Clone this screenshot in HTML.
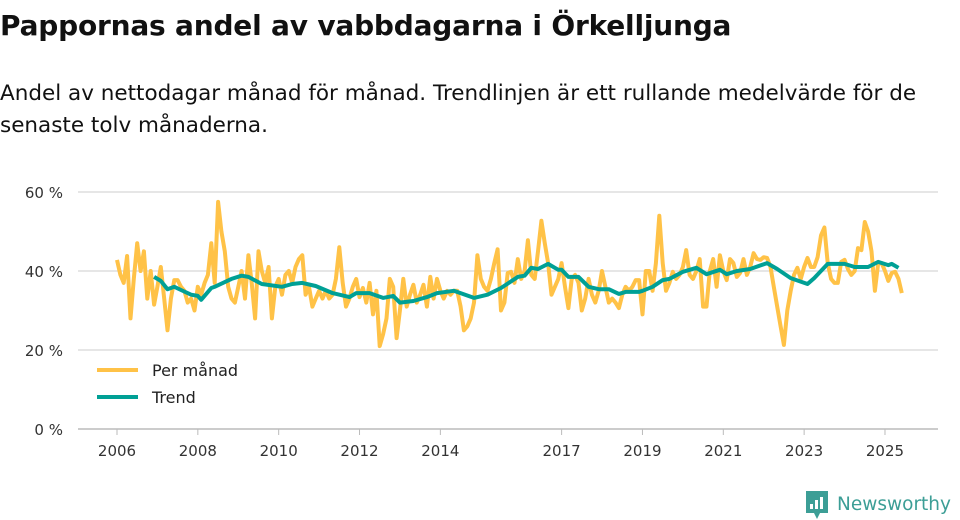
<!DOCTYPE html>
<html><head><meta charset="utf-8">
<style>
body{margin:0;background:#fff;font-family:"DejaVu Sans","Liberation Sans",sans-serif;color:#111;}
#wrap{position:relative;width:960px;height:520px;overflow:hidden;}
h1{position:absolute;left:0;top:9px;margin:0;font-size:28px;font-weight:bold;letter-spacing:-0.2px;white-space:nowrap;}
p.sub{position:absolute;left:0;top:78px;margin:0;font-size:21.5px;line-height:32px;width:960px;white-space:nowrap;}
svg{position:absolute;left:0;top:0;}
</style></head>
<body><div id="wrap">
<h1>Pappornas andel av vabbdagarna i Örkelljunga</h1>
<p class="sub">Andel av nettodagar månad för månad. Trendlinjen är ett rullande medelvärde för de<br>senaste tolv månaderna.</p>
<svg id="chart" width="960" height="520"></svg>
</div>
<script>
// monthly values starting Jan 2006
const startYear = 2006;
const monthlyValues = [42.8,39,37,43.8,28,38,47,40,45,33,40,31.5,
36,41,33,25,33,37.7,37.7,36,35,32,33,30,
36,34,37,39,47,37,57.5,50,45,36,33,32,
36,40,33,44,37,28,45,40,37,41,28,36,
38,34,39,40,37,41,43,44,34,36,31,33,
35,33,35,33,34,38,46,37,31,33,36,38,
33.4,35.7,32,37,29,35,21,24,28,38,36,23,
30,38,31,34,36.5,32,34,36.5,31,38.5,33,38,
35,33,35,34,35,35,31,25,26,28,32,44,
38,36,35,38,42,45.5,30,32,39.5,39.8,37,43,
38,40,47.8,39,38,45,52.7,47,42,34,36,38,
42,36,30.6,38,39,37,30,33,38,34,32,35,
40,36,32,33,32,30.6,34,36,35,36,37.7,37.7,
29,40,40,35,42,54,42,35,37,39.8,38,39,
41,45.3,39,38,40,43,31,31,40,43,36,44,
40,37.7,43,42,38.5,39.5,43,39,41,44.5,43,42.8,
43.5,43.3,41,36,31,26,21.3,30,35,39,40.8,38,
41,43.3,41,41,43.5,49,51,42,38,37,37,42.3,
42.8,40.5,39,40,45.8,45.3,52.4,50,45,35,42,42,
40,37.5,39.5,39.8,38,34.4];
const trendMonths = [11,13,15,17,19,22,24,25,28,29,32,34,37,39,43,49,52,55,59,64,69,71,75,79,82,84,88,92,95,100,106,110,114,119,121,123,125,128,131,132,134,137,140,143,146,149,151,155,156,159,162,164,168,172,175,179,181,184,188,193,196,200,205,207,211,216,219,223,226,229,230,232];
const trendValues = [38.5,37.5,35.4,36,35.2,34,33.7,32.7,35.7,36,37.2,38,38.8,38.5,36.7,36,36.7,37,36.2,34.4,33.4,34.4,34.4,33.2,33.7,32,32.4,33.4,34.4,35,33.2,34,35.7,38.5,38.8,40.8,40.5,41.8,40.3,40.3,38.5,38.5,36,35.4,35.4,34.2,34.7,34.7,35,36,37.7,38,39.8,40.8,39.2,40.3,39.2,40,40.5,42,40.5,38.2,36.7,38.2,41.8,41.8,41,41,42.3,41.5,41.8,40.8];
const yTicks = [0,20,40,60];
const xTickYears = [2006,2008,2010,2012,2014,2017,2019,2021,2023,2025];

const NS='http://www.w3.org/2000/svg';
const svg=document.getElementById('chart');
const x0=117, pxPerYear=40.42;
const xScale = m => x0 + (m/12)*pxPerYear;
const xYear = y => x0 + (y-startYear)*pxPerYear;
const yScale = v => 429 - v*3.95;
const FONT='DejaVu Sans, Liberation Sans, sans-serif';
function mk(t,a){const e=document.createElementNS(NS,t);for(const k in a)e.setAttribute(k,a[k]);svg.appendChild(e);return e;}

yTicks.forEach(v=>{
  const g=mk('line',{x1:78,x2:938,y1:yScale(v),y2:yScale(v),stroke:v===0?'#bbb':'#ddd','stroke-width':1.5});
  
  
  const t=mk('text',{x:63,y:yScale(v)+6,'text-anchor':'end','font-size':15,fill:'#333','font-family':FONT});
  t.textContent=v+' %';
  
  
});
xTickYears.forEach(y=>{
  const x=xYear(y);
  const tk=mk('line',{x1:x,x2:x,y1:429,y2:435,stroke:'#bbb','stroke-width':1});
  
  
  const t=mk('text',{x:x,y:456,'text-anchor':'middle','font-size':15,fill:'#333','font-family':FONT});
  t.textContent=y;
  
  
});

const monthlyPath = monthlyValues.map((v,i)=>(i?'L':'M')+xScale(i).toFixed(1)+','+yScale(v).toFixed(1)).join('');
const pm=mk('path',{d:monthlyPath,fill:'none',stroke:'#FFC247','stroke-width':4,'stroke-linejoin':'round'});


const trendPath = trendValues.map((v,i)=>(i?'L':'M')+xScale(trendMonths[i]).toFixed(1)+','+yScale(v).toFixed(1)).join('');
const tr=mk('path',{d:trendPath,fill:'none',stroke:'#00A095','stroke-width':4,'stroke-linejoin':'round'});



// legend
[['Per månad','#FFC247',370],['Trend','#00A095',397]].forEach(([lab,col,y])=>{
  const l=mk('line',{x1:97,x2:138,y1:y,y2:y,stroke:col,'stroke-width':4});
  
  
  const t=mk('text',{x:152,y:y+6,'font-size':16,fill:'#222','font-family':FONT});
  t.textContent=lab;
  
  
});

// logo
const lg=mk('g',{});


const r=document.createElementNS(NS,'path');
r.setAttribute('d','M806,491 h22 v22 h-8 l-3,6 l-3,-6 h-8 z');
r.setAttribute('fill','#3C9E96');
lg.appendChild(r);
[[810,504,3],[815,500,3],[820,497,3]].forEach(([bx,by,bw])=>{
  const b=document.createElementNS(NS,'rect');
  b.setAttribute('x',bx);b.setAttribute('y',by);b.setAttribute('width',bw);b.setAttribute('height',509-by);b.setAttribute('fill','#fff');
  lg.appendChild(b);
});
const lt=document.createElementNS(NS,'text');
lt.setAttribute('x',837);lt.setAttribute('y',510);lt.setAttribute('font-size',18.5);lt.setAttribute('fill','#3C9E96');
lt.setAttribute('font-family',FONT);
lt.textContent='Newsworthy';
lg.appendChild(lt);
</script>
</body></html>
